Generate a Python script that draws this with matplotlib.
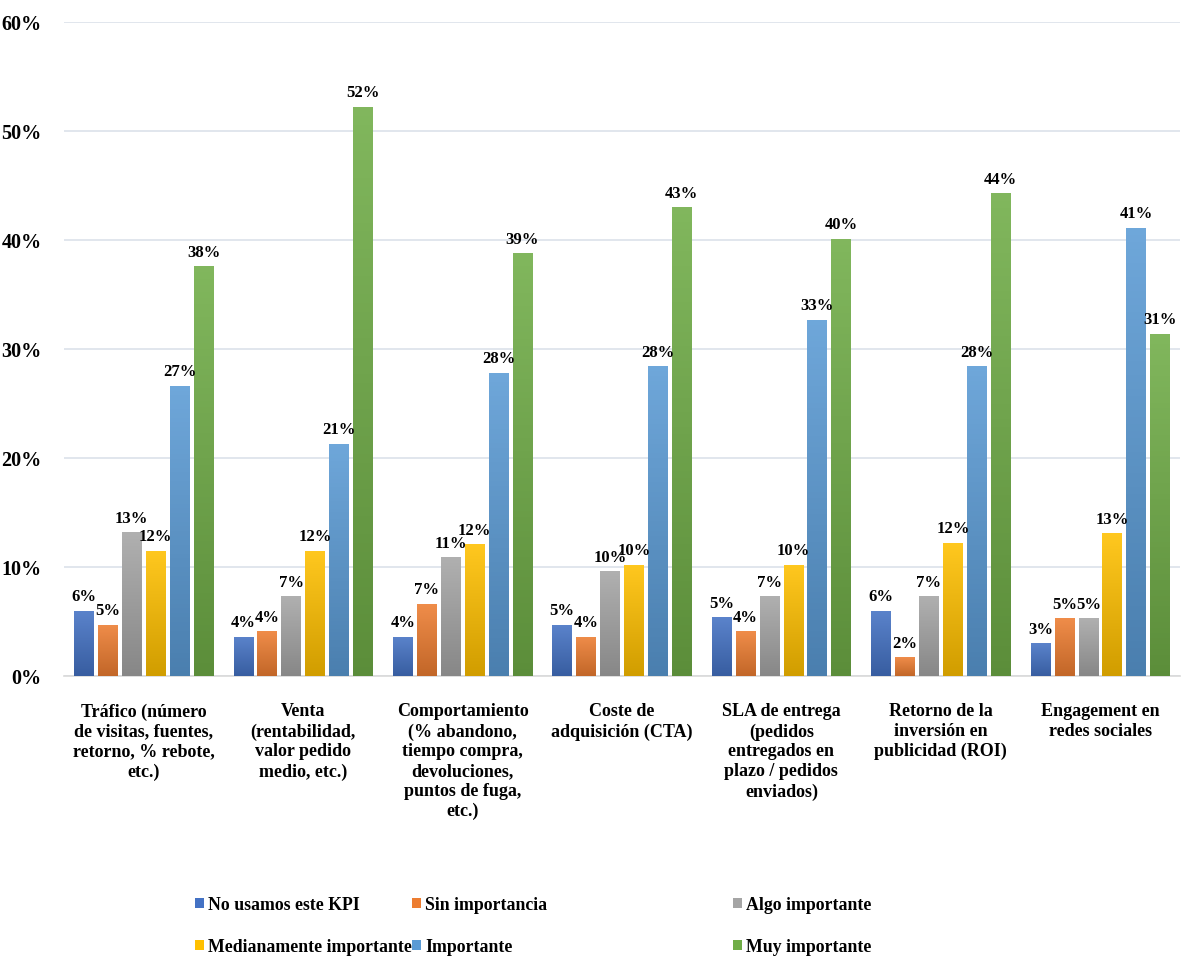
import numpy as np
import matplotlib.pyplot as plt
from matplotlib.colors import LinearSegmentedColormap, to_rgb
from matplotlib.patches import Patch
from matplotlib.ticker import FuncFormatter

plt.rcParams['font.family'] = ['Liberation Serif', 'DejaVu Serif']
plt.rcParams['font.weight'] = 'bold'

categories = [
    "Tráfico (número\nde visitas, fuentes,\nretorno, % rebote,\netc.)",
    "Venta\n(rentabilidad,\nvalor pedido\nmedio, etc.)",
    "Comportamiento\n(% abandono,\ntiempo compra,\ndevoluciones,\npuntos de fuga,\netc.)",
    "Coste de\nadquisición (CTA)",
    "SLA de entrega\n(pedidos\nentregados en\nplazo / pedidos\nenviados)",
    "Retorno de la\ninversión en\npublicidad (ROI)",
    "Engagement en\nredes sociales",
]
series_names = ["No usamos este KPI", "Sin importancia", "Algo importante",
                "Medianamente importante", "Importante", "Muy importante"]

no_usamos = [6.0, 3.6, 3.6, 4.7, 5.4, 6.0, 3.0]
sin_importancia = [4.7, 4.1, 6.6, 3.6, 4.1, 1.7, 5.3]
algo_importante = [13.2, 7.3, 10.9, 9.6, 7.3, 7.3, 5.3]
medianamente = [11.5, 11.5, 12.1, 10.2, 10.2, 12.2, 13.1]
importante = [26.6, 21.3, 27.8, 28.4, 32.7, 28.4, 41.1]
muy_importante = [37.6, 52.2, 38.8, 43.0, 40.1, 44.3, 31.4]
series = [no_usamos, sin_importancia, algo_importante, medianamente, importante, muy_importante]

colors = ["#4472C4", "#ED7D31", "#A5A5A5", "#FFC000", "#5B9BD5", "#70AD47"]


def shade(c, f):
    r, g, b = to_rgb(c)
    if f < 1:
        return (r * f, g * f, b * f)
    return (r + (1 - r) * (f - 1), g + (1 - g) * (f - 1), b + (1 - b) * (f - 1))


fig = plt.figure(figsize=(11.87, 9.78), dpi=100)
ax = fig.add_axes([64 / 1187, 0.3078, 1116 / 1187, 0.6687])

x = np.arange(len(categories))
pitch = 0.15
width = 0.123

for k, (vals, col) in enumerate(zip(series, colors)):
    pos = x + (k - 2.5) * pitch
    bars = ax.bar(pos, vals, width=width, color=col, zorder=2)
    # vertical gradient, darker at the base
    cmap = LinearSegmentedColormap.from_list("g%d" % k, [shade(col, 0.82), shade(col, 1.12)])
    grad = np.linspace(0, 1, 64).reshape(-1, 1)
    for b, v in zip(bars, vals):
        im = ax.imshow(grad, extent=[b.get_x(), b.get_x() + width, 0, v], origin="lower",
                       aspect="auto", cmap=cmap, zorder=3)
        im.set_clip_path(b)
        ax.text(b.get_x() + width / 2, v + 0.6, f"{v:.0f}%", ha="center", va="bottom",
                fontsize=12, fontweight="bold", zorder=4)

ax.set_xlim(-0.5, len(categories) - 0.5)
ax.set_ylim(0, 60)
ax.set_yticks(np.arange(0, 61, 10))
ax.yaxis.set_major_formatter(FuncFormatter(lambda v, p: f"{v:.0f}%"))
ax.set_xticks(x)
ax.set_xticklabels(categories, fontsize=13, fontweight="bold", linespacing=1.22)
ax.tick_params(axis="y", length=0, pad=16, labelsize=14.5)
ax.tick_params(axis="x", length=0, pad=19)
ax.grid(axis="y", color="#DCE1EA", linewidth=1.2, zorder=0)
ax.set_axisbelow(True)
for s in ["top", "right", "left"]:
    ax.spines[s].set_visible(False)
ax.spines["bottom"].set_color("#D9D9D9")
ax.spines["bottom"].set_linewidth(1.2)

# legend laid out as three columns at fixed positions
handles = [Patch(facecolor=c) for c in colors]
col_x = [195 / 1187, 412 / 1187, 733 / 1187]
for j in range(3):
    fig.legend([handles[j], handles[j + 3]], [series_names[j], series_names[j + 3]],
               loc="upper left", bbox_to_anchor=(col_x[j], 1 - 897 / 978),
               frameon=False, handlelength=0.5, handleheight=0.5,
               handletextpad=0.25, labelspacing=1.4, borderaxespad=0, borderpad=0,
               prop={"weight": "bold", "size": 12.8})

fig.savefig("out.png", dpi=100)
